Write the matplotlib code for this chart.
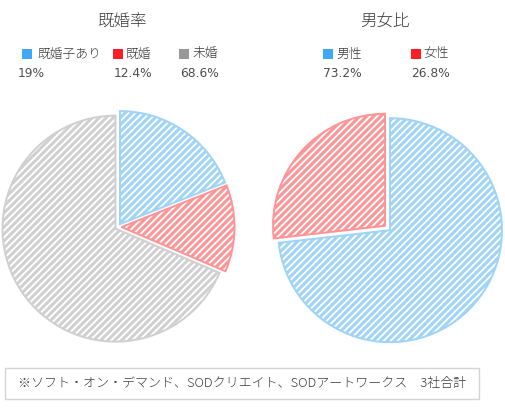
import matplotlib
matplotlib.use("Agg")
import matplotlib.pyplot as plt
from matplotlib.patches import Rectangle

# ---- data ----
marriage_labels = ["既婚子あり", "既婚", "未婚"]
marriage_values = [19, 12.4, 68.6]
marriage_pct = ["19%", "12.4%", "68.6%"]

gender_labels = ["男性", "女性"]
gender_values = [73.2, 26.8]
gender_pct = ["73.2%", "26.8%"]

titles = ["既婚率", "男女比"]
footnote = "※ソフト・オン・デマンド、SODクリエイト、SODアートワークス　3社合計"

# ---- style ----
DPI = 84
W, H = 505, 410
plt.rcParams['font.family'] = ['Noto Sans CJK JP', 'DejaVu Sans']
plt.rcParams['hatch.linewidth'] = 2.6

strong = {"blue": "#3fa9f5", "red": "#ff1d25", "gray": "#999999"}
light = {"blue": "#9fd4f6", "red": "#ff9497", "gray": "#d0d0d0"}
text_c = "#3a3a3a"
pct_c = "#4d4d4d"

def pt(px):
    return px * 72 / DPI

fig = plt.figure(figsize=(W / DPI, H / DPI), dpi=DPI)
ax = fig.add_axes([0, 0, 1, 1])
ax.set_xlim(0, W)
ax.set_ylim(0, H)
ax.set_aspect('equal')
ax.axis('off')

def Y(ypx):
    return H - ypx

def draw_pie(values, keys, center, radius, explode):
    wedges, _ = ax.pie(values, startangle=90, counterclock=False,
                       center=(center[0], Y(center[1])), radius=radius,
                       explode=explode, hatch='////', frame=True,
                       wedgeprops=dict(facecolor='white', linewidth=1.7))
    for w, k in zip(wedges, keys):
        w.set_edgecolor(light[k])
    return wedges

draw_pie(marriage_values, ["blue", "red", "gray"], (118, 227), 113,
         [3.5, 3.5, 3.0])
draw_pie(gender_values, ["blue", "red"], (387.5, 228), 112, [3.3, 3.3])

# restore limits after pie
ax.set_xlim(0, W)
ax.set_ylim(0, H)
ax.axis('off')

# titles
ax.text(122, Y(22), titles[0], ha='center', va='center', fontsize=pt(16.5),
        color=text_c, fontweight='light')
ax.text(385, Y(22), titles[1], ha='center', va='center', fontsize=pt(16.5),
        color=text_c, fontweight='light')

# legends
def legend_item(xsq, xlab, xpct, label, pct, key):
    ax.add_patch(Rectangle((xsq, Y(59)), 10, 10, facecolor=strong[key], edgecolor='none'))
    ax.text(xlab, Y(54), label, ha='left', va='center', fontsize=pt(12.8),
            color=text_c, fontweight='light')
    ax.text(xpct, Y(73.5), pct, ha='left', va='center', fontsize=pt(12.3),
            color=pct_c, family=['DejaVu Sans'])

legend_item(22, 37, 18, marriage_labels[0], marriage_pct[0], "blue")
legend_item(113, 125, 114, marriage_labels[1], marriage_pct[1], "red")
legend_item(179, 192, 180, marriage_labels[2], marriage_pct[2], "gray")

legend_item(323, 336, 323, gender_labels[0], gender_pct[0], "blue")
legend_item(411, 423, 411, gender_labels[1], gender_pct[1], "red")

# footnote box
ax.add_patch(Rectangle((5, Y(399)), 474, 31, facecolor='none', edgecolor='#d5d5d5', linewidth=1.2))
ax.text(18, Y(384), footnote, ha='left', va='center', fontsize=pt(13.0),
        color=text_c, fontweight='light')

fig.savefig("out.png", dpi=DPI, facecolor='white')
